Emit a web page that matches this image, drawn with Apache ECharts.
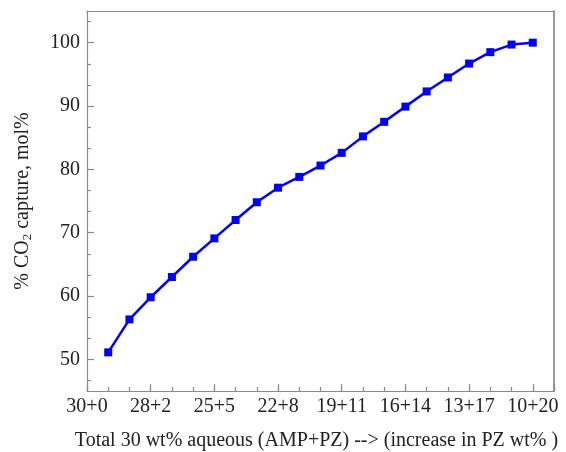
<!DOCTYPE html>
<html>
<head>
<meta charset="utf-8">
<script src="https://cdn.jsdelivr.net/npm/echarts@6/dist/echarts.min.js"></script>
<style>
html,body{margin:0;padding:0;background:#fff;}
#c{width:566px;height:452px;}
</style>
</head>
<body>
<div id="c"></div>
<script>
// PZ wt% in the 30 wt% total blend (AMP + PZ)
var pzWt = [0, 1, 2, 3, 4, 5, 6, 7, 8, 9, 10, 11, 12, 13, 14, 15, 16, 17, 18, 19, 20];
// % CO2 capture, mol%
var co2Capture = [51.1, 56.3, 59.8, 63.0, 66.2, 69.1, 72.0, 74.8, 77.1, 78.8, 80.6, 82.6, 85.2, 87.5, 89.9, 92.3, 94.5, 96.7, 98.5, 99.7, 100.0];
// x tick labels (AMP+PZ) and where they sit on the axis
var xLabelPos = [-1, 2, 5, 8, 11, 14, 17, 20];
var xLabels = ['30+0', '28+2', '25+5', '22+8', '19+11', '16+14', '13+17', '10+20'];
// y tick labels and tick positions
var yLabels = [50, 60, 70, 80, 90, 100];
var yMajorTicks = [50, 60, 70, 80, 90, 100];
var yMinorTicks = [46.667, 53.333, 56.667, 63.333, 66.667, 73.333, 76.667, 83.333, 86.667, 93.333, 96.667, 103.333];

var axisColor = '#8a8a8a';
var font = 'Liberation Serif';

var chart = echarts.init(document.getElementById('c'), null, {renderer: 'canvas'});
var data = pzWt.map(function (p, i) { return [p, co2Capture[i]]; });

var option = {
  backgroundColor: '#ffffff',
  animation: false,
  grid: {left: 87, top: 11, right: 12, bottom: 61, containLabel: false, outerBoundsMode: 'none'},
  xAxis: [
    {
      type: 'value', min: -1, max: 21, interval: 1, position: 'bottom',
      axisLine: {show: true, onZero: false, lineStyle: {color: axisColor, width: 1.2}},
      axisTick: {show: true, inside: true, length: 4, lineStyle: {color: axisColor, width: 1.2}},
      axisLabel: {
        show: true, margin: 6, color: '#222', fontFamily: font, fontSize: 20,
        customValues: xLabelPos, showMinLabel: true,
        formatter: function (v) {
          var k = xLabelPos.indexOf(Math.round(v));
          return k >= 0 ? xLabels[k] : '';
        }
      },
      splitLine: {show: false},
      name: 'Total 30 wt% aqueous (AMP+PZ) --> (increase in PZ wt% )',
      nameLocation: 'middle', nameGap: 40,
      nameTextStyle: {fontFamily: font, fontSize: 20, color: '#222', padding: [0, 8, 0, 0]}
    },
    {
      type: 'value', min: -1, max: 21, interval: 3, position: 'bottom',
      axisLine: {show: false, onZero: false},
      axisTick: {show: true, inside: true, length: 7, lineStyle: {color: axisColor, width: 1.2}},
      axisLabel: {show: false},
      splitLine: {show: false}
    },
    {
      type: 'value', min: -1, max: 21, position: 'top',
      axisLine: {show: true, onZero: false, lineStyle: {color: axisColor, width: 1.2}},
      axisTick: {show: false}, axisLabel: {show: false}, splitLine: {show: false}
    }
  ],
  yAxis: [
    {
      type: 'value', min: 45, max: 105, position: 'left',
      axisLine: {show: true, onZero: false, lineStyle: {color: axisColor, width: 1.2}},
      axisTick: {show: true, inside: true, length: 7, customValues: yMajorTicks, lineStyle: {color: axisColor, width: 1.2}},
      axisLabel: {show: true, margin: 7, color: '#222', fontFamily: font, fontSize: 20, customValues: yLabels},
      splitLine: {show: false},
      name: '% CO{s|2} capture, mol%',
      nameLocation: 'middle', nameGap: 53, nameRotate: 90,
      nameTextStyle: {
        fontFamily: font, fontSize: 20, color: '#222',
        rich: {s: {fontFamily: font, fontSize: 13, color: '#222', verticalAlign: 'bottom', padding: [9, 0, 0, 0]}}
      }
    },
    {
      type: 'value', min: 45, max: 105, position: 'left',
      axisLine: {show: false, onZero: false},
      axisTick: {show: true, inside: true, length: 4, customValues: yMinorTicks, lineStyle: {color: axisColor, width: 1.2}},
      axisLabel: {show: false}, splitLine: {show: false}
    },
    {
      type: 'value', min: 45, max: 105, position: 'right',
      axisLine: {show: true, onZero: false, lineStyle: {color: '#9a9a9a', width: 2}},
      axisTick: {show: false}, axisLabel: {show: false}, splitLine: {show: false}
    }
  ],
  series: [{
    type: 'line',
    xAxisIndex: 0, yAxisIndex: 0,
    data: data,
    symbol: 'rect', symbolSize: 8,
    showSymbol: true,
    lineStyle: {color: '#0000ff', width: 2.5},
    itemStyle: {color: '#0000ff'}
  }]
};
chart.setOption(option);
</script>
</body>
</html>
